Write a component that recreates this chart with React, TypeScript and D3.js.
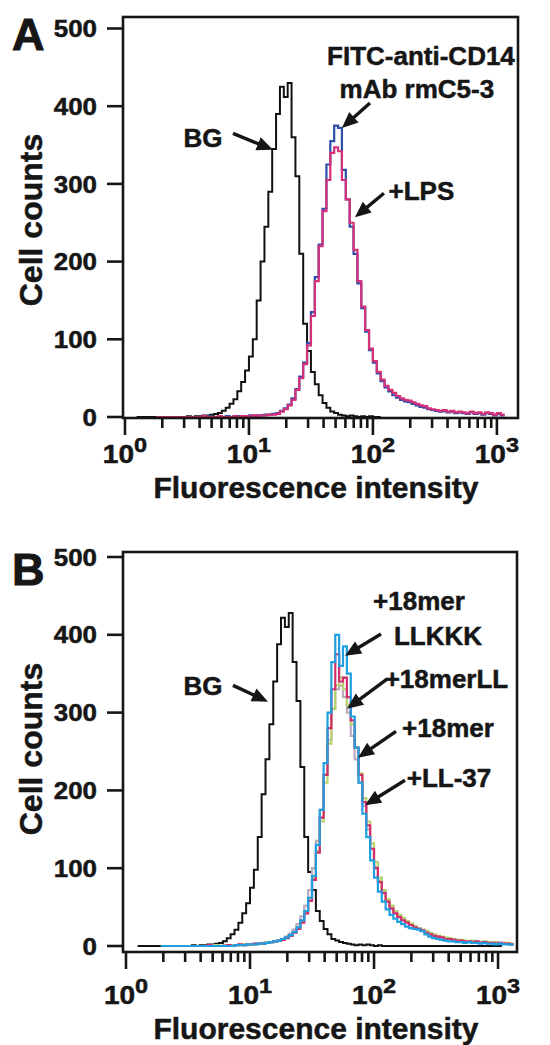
import React, { useEffect, useRef } from "react";
import * as d3 from "d3";

// histogram channels: 32 per decade, channel k covers 10^(k/32) .. 10^((k+1)/32)
const CHANNELS_PER_DECADE = 32;

const yTickValues = [0, 100, 200, 300, 400, 500];
const xDecades = [1, 10, 100, 1000];
const xDecadeExponents = ["0", "1", "2", "3"];

// ---- panel A ----
const bgAStart = 3;
const bgACounts = [
  0, 0, 0, 0, 0, 0, 0, 0, 0, 0, 0, 0, 0,
  1, 0, 1, 1, 2, 2, 3, 4, 5, 8,
  12, 17, 23, 33, 45, 60, 78, 100, 150, 200,
  245, 290, 345, 390, 425, 412, 430, 360, 310, 210,
  120, 85, 58, 42, 28, 18, 12, 7, 5, 3,
  2, 1, 2, 1, 0, 1, 0, 1, 0, 0,
];

const cd14AStart = 8;
const cd14ACounts = [
  0, 0, 0, 0, 0, 0, 0, 0, 0, 0,
  0, 0, 0, 1, 0, 0, 0, 0, 1, 0,
  1, 1, 1, 1, 2, 1, 2, 2, 3, 3,
  4, 5, 8, 11, 16, 24, 36, 52, 70, 95,
  135, 180, 222, 268, 325, 355, 375, 372, 318, 280,
  245, 210, 172, 140, 110, 86, 70, 56, 46, 38,
  33, 28, 25, 22, 20, 19, 17, 15, 13, 12,
  10, 9, 8, 7, 8, 6, 7, 5, 6, 5,
  4, 6, 4, 5, 3, 5, 4, 2, 4, 2,
];

const lpsAStart = 8;
const lpsACounts = [
  0, 0, 0, 0, 0, 0, 0, 0, 0, 0,
  0, 0, 1, 0, 0, 0, 1, 0, 0, 0,
  1, 0, 1, 1, 1, 2, 1, 2, 2, 3,
  3, 4, 7, 10, 15, 22, 35, 50, 68, 92,
  130, 175, 220, 265, 305, 340, 347, 342, 305, 280,
  250, 215, 175, 142, 112, 88, 72, 58, 48, 40,
  35, 31, 27, 24, 22, 21, 19, 17, 15, 14,
  11, 10, 9, 8, 9, 7, 8, 6, 7, 6,
  5, 7, 5, 6, 4, 6, 5, 3, 5, 3,
];

// ---- panel B ----
const bgBStart = 3;
const bgBCounts = [
  0, 0, 0, 0, 0, 0, 0, 0, 0, 0, 0, 0, 0,
  0, 1, 0, 1, 1, 2, 2, 3, 4, 6,
  10, 15, 21, 30, 42, 55, 75, 98, 140, 195,
  240, 285, 340, 388, 422, 410, 428, 365, 315, 230,
  140, 95, 72, 45, 32, 22, 15, 9, 7, 5,
  4, 3, 2, 1, 2, 1, 2, 1, 0, 1,
  0, 0, 0, 0, 0, 0, 0, 0, 0, 0,
  0, 0, 0, 0, 0, 0, 0, 0, 0, 0,
  0, 0, 0, 0, 0, 0, 0, 0, 0, 0, 0,
];

const llkkkBStart = 9;
const llkkkBCounts = [
  0, 0, 0, 0, 0, 0, 0, 0, 0, 0,
  0, 0, 0, 0, 0, 0, 0, 0, 0, 1,
  1, 1, 2, 2, 2, 3, 3, 4, 5, 6,
  7, 9, 11, 14, 18, 24, 33, 45, 62, 90,
  130, 175, 235, 300, 365, 400, 360, 385, 350, 295,
  255, 210, 170, 140, 110, 88, 70, 57, 47, 40,
  35, 31, 28, 25, 23, 22, 21, 19, 15, 12,
  10, 9, 8, 7, 6, 6, 5, 5, 4, 5,
  4, 4, 3, 4, 3, 3, 2, 3, 2, 2, 2,
];

const merLLBStart = 9;
const merLLBCounts = [
  0, 0, 0, 0, 0, 0, 0, 0, 0, 0,
  0, 0, 1, 0, 0, 0, 0, 1, 0, 1,
  2, 1, 2, 2, 3, 3, 3, 4, 5, 6,
  7, 8, 10, 13, 17, 22, 30, 42, 58, 85,
  120, 165, 220, 280, 330, 375, 340, 345, 320, 290,
  255, 220, 185, 155, 125, 100, 82, 68, 57, 48,
  42, 37, 33, 30, 27, 24, 22, 20, 17, 15,
  13, 12, 11, 9, 9, 8, 7, 7, 6, 6,
  5, 6, 4, 5, 4, 4, 3, 4, 3, 3, 2,
];

const merBStart = 9;
const merBCounts = [
  0, 0, 0, 0, 0, 0, 0, 0, 0, 0,
  0, 0, 0, 0, 1, 0, 0, 0, 1, 1,
  1, 2, 1, 2, 2, 3, 3, 4, 5, 6,
  7, 8, 10, 13, 18, 24, 32, 45, 62, 88,
  122, 160, 210, 260, 305, 335, 345, 330, 310, 285,
  255, 222, 190, 160, 132, 108, 88, 72, 60, 52,
  45, 40, 36, 32, 29, 26, 23, 21, 19, 17,
  15, 13, 12, 11, 10, 9, 8, 8, 7, 6,
  7, 6, 5, 6, 5, 4, 5, 4, 3, 4, 3,
];

const ll37BStart = 9;
const ll37BCounts = [
  0, 0, 0, 0, 0, 0, 0, 0, 0, 0,
  0, 0, 0, 1, 0, 0, 1, 0, 1, 1,
  2, 1, 2, 2, 3, 3, 4, 4, 5, 6,
  7, 9, 12, 16, 21, 28, 38, 52, 72, 100,
  135, 175, 220, 265, 305, 330, 335, 320, 300, 270,
  240, 210, 180, 150, 125, 102, 84, 70, 58, 50,
  44, 39, 35, 31, 28, 25, 22, 20, 18, 16,
  14, 12, 11, 10, 9, 8, 8, 7, 6, 6,
  5, 6, 5, 4, 5, 4, 4, 3, 4, 3, 2,
];

const FONT = "'Liberation Sans', Arial, Helvetica, sans-serif";
const INK = "#161616";

const panelA = {
  letter: "A",
  letterY: 50,
  left: 123, right: 518, top: 17, bottom: 418,
  xDomain: [0.964, 1480],
  yRange: [417, 28.5],
  tickLabelY: 463,
  titleY: 498,
  yTitleY: 220,
  series: [
    { start: bgAStart, counts: bgACounts, color: "#111111", width: 2 },
    { start: cd14AStart, counts: cd14ACounts, color: "#2c4ea6", width: 2.2 },
    { start: lpsAStart, counts: lpsACounts, color: "#d6307a", width: 2.2 },
  ],
  labels: [
    { text: "BG", at: [4.26, 347] },
    { text: "FITC-anti-CD14", at: [244, 453] },
    { text: "mAb rmC5-3", at: [226, 411] },
    { text: "+LPS", at: [246, 279] },
  ],
  arrows: [
    { from: [7.43, 365], to: [15.6, 344] },
    { from: [94.6, 404], to: [56.2, 372] },
    { from: [122.7, 288], to: [71.6, 257] },
  ],
};

const panelB = {
  letter: "B",
  letterY: 585,
  left: 123, right: 517, top: 552, bottom: 952,
  xDomain: [0.946, 1422],
  yRange: [946, 557],
  tickLabelY: 1004,
  titleY: 1039,
  yTitleY: 749,
  series: [
    { start: bgBStart, counts: bgBCounts, color: "#111111", width: 2 },
    { start: ll37BStart, counts: ll37BCounts, color: "#bcaabf", width: 2.2 },
    { start: merBStart, counts: merBCounts, color: "#b7d46c", width: 2.2 },
    { start: merLLBStart, counts: merLLBCounts, color: "#d42d6e", width: 2.2 },
    { start: llkkkBStart, counts: llkkkBCounts, color: "#1f9fe0", width: 2.2 },
  ],
  labels: [
    { text: "BG", at: [4.18, 323] },
    { text: "+18mer", at: [230.6, 432] },
    { text: "LLKKK", at: [328, 387] },
    { text: "+18merLL", at: [384, 332] },
    { text: "+18mer", at: [395, 269] },
    { text: "+LL-37", at: [402.6, 204] },
  ],
  arrows: [
    { from: [7.29, 335], to: [13.97, 314] },
    { from: [113.8, 401], to: [58.4, 373] },
    { from: [127.3, 343], to: [60.6, 305] },
    { from: [150.4, 276], to: [74.3, 242] },
    { from: [177.8, 213], to: [84.6, 181] },
  ],
};

// bold print look: a thin outline on every label
const boldText = sel =>
  sel
    .style("font-family", FONT)
    .style("font-weight", "bold")
    .attr("fill", INK)
    .attr("stroke", INK)
    .attr("stroke-width", 0.5);

const Panel = ({ cfg }) => {
  const ref = useRef(null);

  useEffect(() => {
    const g = d3.select(ref.current);
    g.selectAll("*").remove();

    const x = d3.scaleLog().domain(cfg.xDomain).range([cfg.left, cfg.right]);
    const y = d3.scaleLinear().domain([0, 500]).range(cfg.yRange);

    // histograms (step lines)
    const line = d3
      .line()
      .x(d => x(d[0]))
      .y(d => y(d[1]))
      .curve(d3.curveStepAfter);

    cfg.series.forEach(s => {
      const pts = s.counts.map((c, i) => [
        Math.pow(10, (s.start + i) / CHANNELS_PER_DECADE),
        c,
      ]);
      pts.push([
        Math.pow(10, (s.start + s.counts.length) / CHANNELS_PER_DECADE),
        s.counts[s.counts.length - 1],
      ]);
      g.append("path")
        .attr("d", line(pts))
        .attr("fill", "none")
        .attr("stroke", s.color)
        .attr("stroke-width", s.width)
        .attr("stroke-linejoin", "miter");
    });

    // frame
    g.append("rect")
      .attr("x", cfg.left)
      .attr("y", cfg.top)
      .attr("width", cfg.right - cfg.left)
      .attr("height", cfg.bottom - cfg.top)
      .attr("fill", "none")
      .attr("stroke", INK)
      .attr("stroke-width", 2.6);

    // y ticks
    g.selectAll("line.ytick")
      .data(yTickValues)
      .enter()
      .append("line")
      .attr("class", "ytick")
      .attr("x1", cfg.left - 16)
      .attr("x2", cfg.left)
      .attr("y1", d => y(d))
      .attr("y2", d => y(d))
      .attr("stroke", INK)
      .attr("stroke-width", 2.6);

    g.selectAll("text.ylab")
      .data(yTickValues)
      .enter()
      .append("text")
      .attr("class", "ylab")
      .attr("transform", d => `translate(${cfg.left - 26},${y(d)}) scale(1.08,1)`)
      .attr("dy", "0.36em")
      .attr("text-anchor", "end")
      .style("font-size", "24px")
      .call(boldText)
      .text(d => d);

    // x ticks (log, major at decades, minor 2..9)
    const xTicks = x.ticks().filter(v => v >= 1 && v <= 1000);
    const isMajor = v => Math.abs(Math.log10(v) - Math.round(Math.log10(v))) < 1e-6;
    g.selectAll("line.xtick")
      .data(xTicks)
      .enter()
      .append("line")
      .attr("class", "xtick")
      .attr("x1", d => x(d))
      .attr("x2", d => x(d))
      .attr("y1", cfg.bottom)
      .attr("y2", d => cfg.bottom + (isMajor(d) ? 17 : 10))
      .attr("stroke", INK)
      .attr("stroke-width", 2.6);

    const xl = g
      .selectAll("g.xlab")
      .data(xDecades)
      .enter()
      .append("g")
      .attr("class", "xlab")
      .attr("transform", d => `translate(${x(d)},${cfg.tickLabelY}) scale(1.12,1)`)
      .append("text")
      .attr("text-anchor", "middle")
      .call(boldText);
    xl.append("tspan").style("font-size", "25px").text("10");
    xl.append("tspan")
      .style("font-size", "21px")
      .attr("dy", -11)
      .text((d, i) => xDecadeExponents[i]);

    // axis titles
    g.append("text")
      .attr("x", 316)
      .attr("y", cfg.titleY)
      .attr("text-anchor", "middle")
      .style("font-size", "30px")
      .call(boldText)
      .text("Fluorescence intensity");

    g.append("text")
      .attr("transform", `translate(42,${cfg.yTitleY}) rotate(-90)`)
      .attr("text-anchor", "middle")
      .style("font-size", "32px")
      .call(boldText)
      .text("Cell counts");

    // panel letter
    g.append("text")
      .attr("x", 12)
      .attr("y", cfg.letterY)
      .style("font-size", "45px")
      .call(boldText)
      .attr("stroke-width", 1)
      .text(cfg.letter);

    // annotations
    g.selectAll("text.note")
      .data(cfg.labels)
      .enter()
      .append("text")
      .attr("class", "note")
      .attr("x", d => x(d.at[0]))
      .attr("y", d => y(d.at[1]))
      .attr("text-anchor", "middle")
      .style("font-size", "26px")
      .call(boldText)
      .text(d => d.text);

    cfg.arrows.forEach(a => {
      const x0 = x(a.from[0]), y0 = y(a.from[1]);
      const x1 = x(a.to[0]), y1 = y(a.to[1]);
      const len = Math.hypot(x1 - x0, y1 - y0);
      const ux = (x1 - x0) / len, uy = (y1 - y0) / len;
      const head = 16, half = 7;
      const bx = x1 - ux * head, by = y1 - uy * head;
      g.append("line")
        .attr("x1", x0)
        .attr("y1", y0)
        .attr("x2", bx + ux * 2)
        .attr("y2", by + uy * 2)
        .attr("stroke", INK)
        .attr("stroke-width", 3.4);
      g.append("path")
        .attr(
          "d",
          `M${x1},${y1}L${bx - uy * half},${by + ux * half}L${bx + uy * half},${by - ux * half}Z`
        )
        .attr("fill", INK);
    });
  }, [cfg]);

  return <g ref={ref} />;
};

const App = () => {
  return (
    <svg
      width={550}
      height={1045}
      style={{ position: "absolute", left: 0, top: 0, background: "#fff" }}
    >
      <rect x={0} y={0} width={550} height={1045} fill="#fff" />
      <Panel cfg={panelA} />
      <Panel cfg={panelB} />
    </svg>
  );
};

export default App;
